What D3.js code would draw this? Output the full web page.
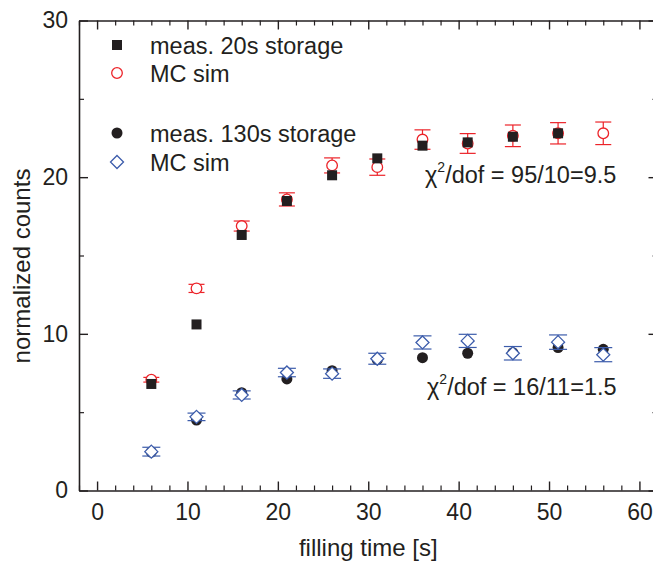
<!DOCTYPE html>
<html>
<head>
<meta charset="utf-8">
<script src="https://cdn.jsdelivr.net/npm/d3@7"></script>
<style>
  body { margin: 0; background: #fff; }
  svg { display: block; font-family: "Liberation Sans", Arial, sans-serif; }
</style>
</head>
<body>
<div class="chart"></div>
<script>
// filling times (s)
var times = [6, 11, 16, 21, 26, 31, 36, 41, 46, 51, 56];

// 20 s storage: measured (10 points) and MC simulation with errors
var meas20 = [6.8, 10.6, 16.31, 18.48, 20.12, 21.2, 22.01, 22.22, 22.58, 22.8];
var sim20 = [7.07, 12.9, 16.88, 18.58, 20.75, 20.64, 22.4, 22.15, 22.64, 22.8, 22.8];
var sim20Err = [0.15, 0.26, 0.32, 0.42, 0.48, 0.52, 0.62, 0.63, 0.69, 0.68, 0.72];

// 130 s storage: measured and MC simulation with errors
var meas130 = [2.45, 4.5, 6.24, 7.12, 7.65, 8.35, 8.48, 8.76, 8.8, 9.12, 9.01];
var sim130 = [2.48, 4.7, 6.1, 7.53, 7.46, 8.41, 9.45, 9.55, 8.76, 9.47, 8.67];
var sim130Err = [0.28, 0.24, 0.26, 0.27, 0.3, 0.35, 0.42, 0.42, 0.43, 0.46, 0.45];

var xMajor = [0, 10, 20, 30, 40, 50, 60];
var yMajor = [0, 10, 20, 30];
var legendLabels = ["meas. 20s storage", "MC sim", "meas. 130s storage", "MC sim"];

var red = "#ec2329", blue = "#3c5cab", ink = "#231f20";

var W = 653, H = 562;
var svg = d3.select(".chart").append("svg")
    .attr("width", W)
    .attr("height", H);

var x = d3.scaleLinear().domain([-2, 62]).range([79, 657.5]);
var y = d3.scaleLinear().domain([0, 30]).range([490.5, 20.5]);

var xMinor = d3.range(-2, 63, 2).filter(function (v) { return v % 10 !== 0; });
var yMinor = [5, 15, 25];

// frame axes, ticks pointing inward
function styleAxis(g) {
  g.selectAll(".domain").attr("stroke", ink).attr("stroke-width", 1.6);
  g.selectAll(".tick line").attr("stroke", ink).attr("stroke-width", 1.4);
  g.selectAll(".tick text").attr("fill", ink).attr("font-size", "23px")
    .attr("font-family", "Liberation Sans, Arial, sans-serif");
}
function minorAxis(g) {
  g.select(".domain").remove();
  g.selectAll(".tick line").attr("stroke", ink).attr("stroke-width", 1.2);
}

svg.append("g").attr("transform", "translate(0," + y(0) + ")")
  .call(d3.axisBottom(x).tickValues(xMajor).tickSizeInner(-9).tickSizeOuter(0).tickPadding(13))
  .call(styleAxis);
svg.append("g").attr("transform", "translate(0," + y(0) + ")")
  .call(d3.axisBottom(x).tickValues(xMinor).tickSize(-5).tickFormat(""))
  .call(minorAxis);

svg.append("g").attr("transform", "translate(0," + y(30) + ")")
  .call(d3.axisTop(x).tickValues(xMajor).tickSizeInner(-9).tickSizeOuter(0).tickFormat(""))
  .call(styleAxis);
svg.append("g").attr("transform", "translate(0," + y(30) + ")")
  .call(d3.axisTop(x).tickValues(xMinor).tickSize(-5).tickFormat(""))
  .call(minorAxis);

svg.append("g").attr("transform", "translate(" + x(-2) + ",0)")
  .call(d3.axisLeft(y).tickValues(yMajor).tickSizeInner(-9).tickSizeOuter(0).tickPadding(11))
  .call(styleAxis);
svg.append("g").attr("transform", "translate(" + x(-2) + ",0)")
  .call(d3.axisLeft(y).tickValues(yMinor).tickSize(-5).tickFormat(""))
  .call(minorAxis);

svg.append("g").attr("transform", "translate(" + x(62) + ",0)")
  .call(d3.axisRight(y).tickValues(yMajor).tickSizeInner(-9).tickSizeOuter(0).tickFormat(""))
  .call(styleAxis);
svg.append("g").attr("transform", "translate(" + x(62) + ",0)")
  .call(d3.axisRight(y).tickValues(yMinor).tickSize(-5).tickFormat(""))
  .call(minorAxis);

// axis titles
svg.append("text")
  .attr("x", (x(-2) + x(62)) / 2)
  .attr("y", 556)
  .attr("text-anchor", "middle")
  .attr("font-size", "24px")
  .attr("fill", ink)
  .text("filling time [s]");

svg.append("text")
  .attr("transform", "translate(30," + 266 + ")rotate(-90)")
  .attr("text-anchor", "middle")
  .attr("font-size", "24px")
  .attr("fill", ink)
  .text("normalized counts");

var diamond = "M0,-6.5L6.5,0L0,6.5L-6.5,0Z";

function errorBars(vals, errs, color, cap) {
  var g = svg.append("g").attr("stroke", color).attr("stroke-width", 1.2);
  vals.forEach(function (v, i) {
    var cx = x(times[i]);
    g.append("line").attr("x1", cx).attr("x2", cx)
      .attr("y1", y(v - errs[i])).attr("y2", y(v + errs[i]));
    g.append("line").attr("x1", cx - cap).attr("x2", cx + cap)
      .attr("y1", y(v + errs[i])).attr("y2", y(v + errs[i]));
    g.append("line").attr("x1", cx - cap).attr("x2", cx + cap)
      .attr("y1", y(v - errs[i])).attr("y2", y(v - errs[i]));
  });
}

// 20 s storage: MC open circles then measured squares
errorBars(sim20, sim20Err, red, 8);
svg.append("g").selectAll("circle")
  .data(sim20).enter().append("circle")
  .attr("cx", function (d, i) { return x(times[i]); })
  .attr("cy", function (d) { return y(d); })
  .attr("r", 5.3)
  .attr("fill", "#fff")
  .attr("stroke", red)
  .attr("stroke-width", 1.3);
svg.append("g").selectAll("rect")
  .data(meas20).enter().append("rect")
  .attr("x", function (d, i) { return x(times[i]) - 5; })
  .attr("y", function (d) { return y(d) - 5; })
  .attr("width", 10).attr("height", 10)
  .attr("fill", ink);

// 130 s storage: measured dots then MC diamonds
svg.append("g").selectAll("circle")
  .data(meas130).enter().append("circle")
  .attr("cx", function (d, i) { return x(times[i]); })
  .attr("cy", function (d) { return y(d); })
  .attr("r", 5.5)
  .attr("fill", ink);
errorBars(sim130, sim130Err, blue, 9);
svg.append("g").selectAll("path")
  .data(sim130).enter().append("path")
  .attr("d", diamond)
  .attr("transform", function (d, i) { return "translate(" + x(times[i]) + "," + y(d) + ")"; })
  .attr("fill", "#fff")
  .attr("stroke", blue)
  .attr("stroke-width", 1.3);

// legend
var legendY = [45, 73, 133, 162];
var lg = svg.append("g");
lg.append("rect").attr("x", 112).attr("y", legendY[0] - 5).attr("width", 10).attr("height", 10).attr("fill", ink);
lg.append("circle").attr("cx", 117).attr("cy", legendY[1]).attr("r", 5.3)
  .attr("fill", "#fff").attr("stroke", red).attr("stroke-width", 1.3);
lg.append("circle").attr("cx", 117).attr("cy", legendY[2]).attr("r", 5.5).attr("fill", ink);
lg.append("path").attr("d", diamond).attr("transform", "translate(117," + legendY[3] + ")")
  .attr("fill", "#fff").attr("stroke", blue).attr("stroke-width", 1.3);
lg.selectAll("text").data(legendLabels).enter().append("text")
  .attr("x", 150)
  .attr("y", function (d, i) { return legendY[i] + 8.5; })
  .attr("font-size", "23.5px")
  .attr("fill", ink)
  .text(function (d) { return d; });

// chi-square annotations
function chiText(xpos, ypos, rest) {
  var t = svg.append("text").attr("x", xpos).attr("y", ypos)
    .attr("font-size", "23.5px").attr("fill", ink);
  t.append("tspan").text("\u03c7");
  t.append("tspan").attr("font-size", "14px").attr("dy", -11).text("2");
  t.append("tspan").attr("dy", 11).text(rest);
}
chiText(425, 183, "/dof = 95/10=9.5");
chiText(427, 395, "/dof = 16/11=1.5");
</script>
</body>
</html>
